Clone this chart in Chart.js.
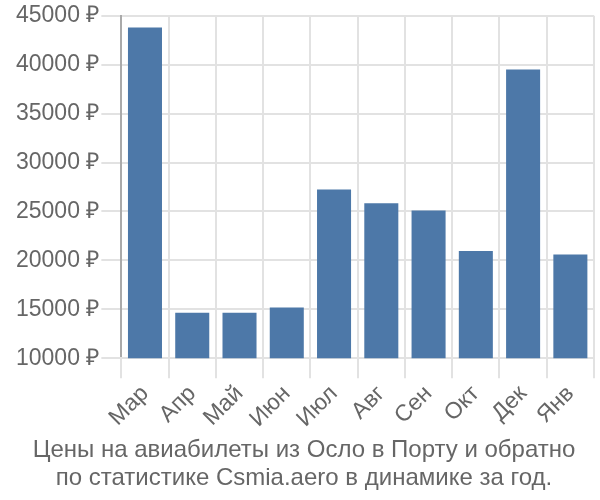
<!DOCTYPE html>
<html>
<head>
<meta charset="utf-8">
<script src="https://cdn.jsdelivr.net/npm/chart.js@4.4.2/dist/chart.umd.min.js"></script>
<style>
  html, body { margin: 0; padding: 0; background: #fff; }
  #wrap { width: 600px; height: 500px; }
</style>
</head>
<body>
<div id="wrap"><canvas id="grafico"></canvas></div>
<script>
// Месяцы и цены
const meses = ['Мар', 'Апр', 'Май', 'Июн', 'Июл', 'Авг', 'Сен', 'Окт', 'Дек', 'Янв'];
const precios = [43800, 14650, 14650, 15200, 27250, 25850, 25100, 20950, 39500, 20600];
const titulo = ['Цены на авиабилеты из Осло в Порту и обратно', 'по статистике Csmia.aero в динамике за год.'];

Chart.defaults.font.family = '"Liberation Sans", Arial, sans-serif';
Chart.defaults.color = '#666';

const ctx = document.getElementById('grafico').getContext('2d');
new Chart(ctx, {
  type: 'bar',
  data: {
    labels: meses,
    datasets: [{
      data: precios,
      backgroundColor: '#4d78a8',
      borderColor: '#4d78a8',
      borderWidth: 0
    }]
  },
  options: {
    responsive: true,
    maintainAspectRatio: false,
    animation: false,
    layout: { padding: { left: 14, right: 6, top: 4, bottom: 0 } },
    plugins: {
      legend: { display: false },
      tooltip: { enabled: false },
      title: {
        display: true,
        position: 'bottom',
        text: titulo,
        color: '#666',
        font: { size: 24, weight: 'normal', lineHeight: 1.15 },
        padding: { top: 2, bottom: 8 }
      }
    },
    scales: {
      y: {
        min: 10000,
        max: 45000,
        ticks: {
          stepSize: 5000,
          font: { size: 23 },
          padding: 2,
          callback: (v) => v + ' ₽'
        },
        grid: { color: '#e2e2e2', lineWidth: 2, tickLength: 20 },
        border: { color: '#aaa', width: 2 }
      },
      x: {
        ticks: { font: { size: 23 }, minRotation: 45, maxRotation: 45, padding: 2 },
        grid: { color: '#e2e2e2', lineWidth: 2, tickLength: 20 },
        border: { color: '#e2e2e2', width: 2 }
      }
    }
  }
});
</script>
</body>
</html>
